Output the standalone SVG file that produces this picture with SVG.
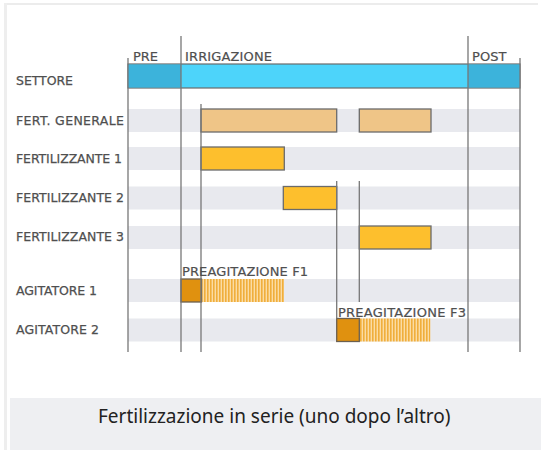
<svg xmlns="http://www.w3.org/2000/svg" width="541" height="450" viewBox="0 0 541 450">
<style>
.lbl{font-family:"DejaVu Sans",sans-serif;font-size:12.5px;fill:#4f4f4f;stroke:#4f4f4f;stroke-width:0.25}
.hdr{font-family:"DejaVu Sans",sans-serif;font-size:13px;fill:#4f4f4f;stroke:#4f4f4f;stroke-width:0.2}
.band{fill:#e8e9ee}
.bar{stroke:#6b6b6b;stroke-width:1.3}
.tan{fill:#efc587}
.yel{fill:#fdbf2d}
.dark{fill:#e0910f;stroke:#6b6050;stroke-width:1.3}
.vl{stroke:#777;stroke-width:1.3;fill:none}
.cap{font-family:"Noto Sans",sans-serif;font-size:19px;fill:#222}
</style>
<defs>
<pattern id="hatch" width="3" height="10" patternUnits="userSpaceOnUse">
<rect width="3" height="10" fill="#fbdca4"/>
<rect width="1.6" height="10" fill="#f0ae3c"/>
</pattern>
</defs>
<rect width="541" height="450" fill="#fff"/>
<rect x="4" y="3" width="534" height="2" fill="#ececec"/>
<rect x="4" y="3" width="3" height="447" fill="#eeeeee"/>

<g id="bands">
<rect class="band" x="128" y="109" width="392" height="23"/>
<rect class="band" x="128" y="147" width="392" height="23"/>
<rect class="band" x="128" y="186.5" width="392" height="23"/>
<rect class="band" x="128" y="226" width="392" height="23"/>
<rect class="band" x="128" y="279" width="392" height="23"/>
<rect class="band" x="128" y="318.5" width="392" height="23"/>
</g>

<g id="settore">
<rect x="128" y="64" width="392" height="24" fill="#4dd4fa" stroke="#6b6b6b" stroke-width="1.2"/>
<rect x="128" y="64.6" width="53" height="22.8" fill="#3cb3db"/>
<rect x="468" y="64.6" width="52" height="22.8" fill="#3cb3db"/>
</g>

<g id="bars">
<rect class="bar tan" x="201" y="109" width="135.7" height="23"/>
<rect class="bar tan" x="359.3" y="109" width="71.7" height="23"/>
<rect class="bar yel" x="201" y="147" width="83.3" height="23"/>
<rect class="bar yel" x="283.3" y="186.5" width="53.4" height="23"/>
<rect class="bar yel" x="359.3" y="226" width="71.7" height="23"/>
<rect x="201" y="279" width="83" height="23" fill="url(#hatch)"/>
<rect class="dark" x="181" y="279" width="20.5" height="23"/>
<rect x="359.3" y="318.5" width="71" height="23" fill="url(#hatch)"/>
<rect class="dark" x="336.7" y="318.5" width="22.6" height="23"/>
</g>

<g id="connectors">
<line class="vl" x1="128" y1="58" x2="128" y2="352"/>
<line class="vl" x1="181" y1="36" x2="181" y2="352"/>
<line class="vl" x1="201" y1="104" x2="201" y2="352"/>
<line class="vl" x1="336.7" y1="181" x2="336.7" y2="318.5"/>
<line class="vl" x1="359.3" y1="181" x2="359.3" y2="302"/>
<line class="vl" x1="468" y1="36" x2="468" y2="352"/>
<line class="vl" x1="520" y1="58" x2="520" y2="352"/>
</g>

<g id="headers">
<text class="hdr" x="133" y="61" textLength="25" lengthAdjust="spacing">PRE</text>
<text class="hdr" x="185" y="61" textLength="87" lengthAdjust="spacing">IRRIGAZIONE</text>
<text class="hdr" x="472" y="61" textLength="34.5" lengthAdjust="spacing">POST</text>
</g>

<g id="labels">
<text class="lbl" x="16" y="85" textLength="57" lengthAdjust="spacing">SETTORE</text>
<text class="lbl" x="16" y="125" textLength="108" lengthAdjust="spacing">FERT. GENERALE</text>
<text class="lbl" x="16" y="163" textLength="106" lengthAdjust="spacing">FERTILIZZANTE 1</text>
<text class="lbl" x="16" y="202" textLength="108" lengthAdjust="spacing">FERTILIZZANTE 2</text>
<text class="lbl" x="16" y="241" textLength="108" lengthAdjust="spacing">FERTILIZZANTE 3</text>
<text class="lbl" x="16" y="295" textLength="81" lengthAdjust="spacing">AGITATORE 1</text>
<text class="lbl" x="16" y="334" textLength="83" lengthAdjust="spacing">AGITATORE 2</text>
</g>

<g id="preagitazione">
<text class="hdr" x="182" y="276" textLength="126" lengthAdjust="spacing">PREAGITAZIONE F1</text>
<text class="hdr" x="338" y="317" textLength="128" lengthAdjust="spacing">PREAGITAZIONE F3</text>
</g>

<g id="caption">
<rect x="10" y="398" width="531" height="52" fill="#eeeff2"/>
<text class="cap" x="98" y="422.5">Fertilizzazione in serie (uno dopo l’altro)</text>
</g>
</svg>
